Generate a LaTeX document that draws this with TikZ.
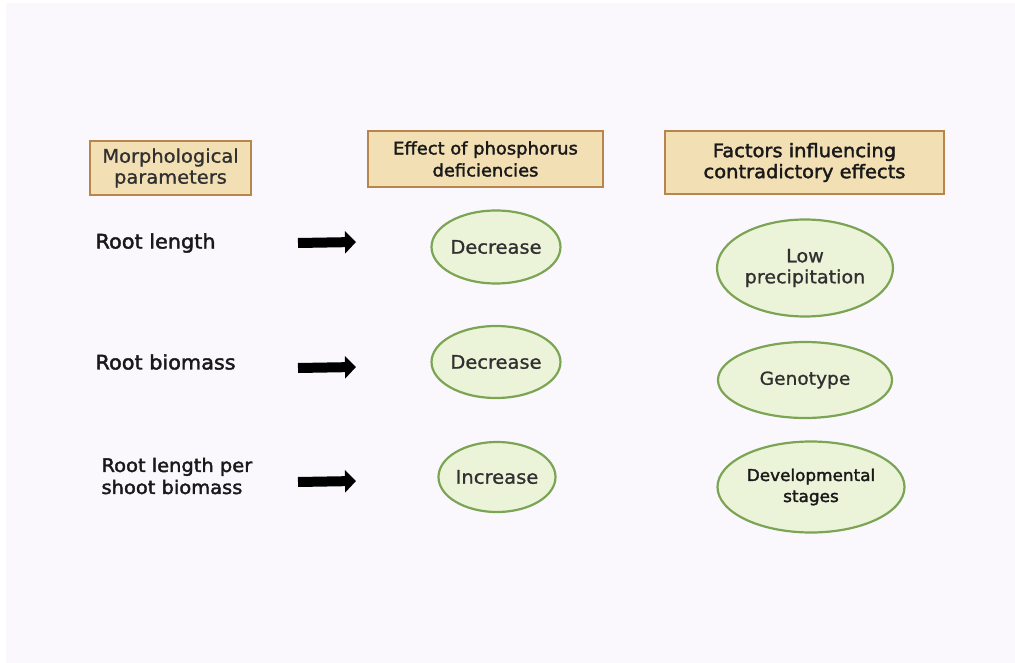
\documentclass[tikz,border=0pt]{standalone}
\usepackage{fontspec}
\setmainfont{DejaVu Sans}[FakeStretch=1.04, FakeBold=1.0]
\newfontfamily\medfont{DejaVu Sans}[FakeStretch=1.04, FakeBold=2.0]
\usetikzlibrary{shapes, positioning, arrows.meta}
\definecolor{bgpaper}{HTML}{FBF8FD}
\definecolor{boxfill}{HTML}{F2DFB4}
\definecolor{boxline}{HTML}{B8864C}
\definecolor{ovalfill}{HTML}{EBF3D8}
\definecolor{ovalline}{HTML}{7CA455}
\definecolor{inkgray}{HTML}{303030}

\tikzset{
  headbox/.style={rectangle, draw=boxline, fill=boxfill, line width=2.2pt, align=center, inner sep=0pt},
  effect/.style={ellipse, draw=ovalline, fill=ovalfill, line width=2.2pt, align=center, inner sep=0pt, text=inkgray},
  rowlabel/.style={anchor=west, align=left, text=black!90},
  fatarrow/.style={line width=10pt, -{Triangle[width=22pt, length=11pt]}},
}

\begin{document}
\begin{tikzpicture}[x=1pt, y=-1pt]
                \useasboundingbox (0,0) rectangle (1015,663);
                \fill[bgpaper] (6,3) rectangle (1015,663);

                % column headers
                \node[headbox, minimum width=161pt, minimum height=54pt, font=\fontsize{18.7}{21}\selectfont, text=inkgray] (morph) at (170.5,168) {Morphological\\parameters};
                \node[headbox, minimum width=235pt, minimum height=56pt, font=\medfont\fontsize{17.2}{22}\selectfont, text=black!90] (effect) at (485.5,159) {Effect of phosphorus\\deficiencies};
                \node[headbox, minimum width=279pt, minimum height=63pt, font=\medfont\fontsize{18.7}{21}\selectfont, text=black!90] (factors) at (804.5,162.5) {Factors influencing\\contradictory effects};

                % parameters
                \node[rowlabel, font=\medfont\fontsize{20}{22}\selectfont] (rlen) at (92,243) {Root length};
                \node[rowlabel, font=\medfont\fontsize{20}{22}\selectfont] (rbio) at (92,362) {Root biomass};
                \node[rowlabel, font=\medfont\fontsize{18.7}{22}\selectfont] (rlps) at (98,476) {Root length per\\shoot biomass};

                % effects
                \node[effect, minimum width=118pt, minimum height=73pt, font=\fontsize{18.7}{21}\selectfont] (dec1) at (496,247) {Decrease};
                \node[effect, minimum width=118pt, minimum height=72pt, font=\fontsize{18.7}{21}\selectfont] (dec2) at (496,362) {Decrease};
                \node[effect, minimum width=116pt, minimum height=70pt, font=\fontsize{18.8}{21}\selectfont] (inc) at (497,477) {Increase};

                % factors
                \node[effect, minimum width=176pt, minimum height=97pt, font=\fontsize{18.4}{21}\selectfont] (lowp) at (805,268) {Low\\precipitation};
                \node[effect, minimum width=174pt, minimum height=76pt, font=\fontsize{17.9}{21}\selectfont] (geno) at (805,380) {Genotype};
                \node[effect, minimum width=187pt, minimum height=91pt, font=\medfont\fontsize{16.2}{21}\selectfont, text=black!90] (devel) at (811,487) {Developmental\\stages};

                % arrows
                \coordinate (a1s) at (298,243);
                \coordinate (a1e) at (356,242);
                \coordinate (a2s) at (298,368);
                \coordinate (a2e) at (356,367);
                \coordinate (a3s) at (298,482);
                \coordinate (a3e) at (356,481);
                \draw[fatarrow] (a1s) -- (a1e);
                \draw[fatarrow] (a2s) -- (a2e);
                \draw[fatarrow] (a3s) -- (a3e);
            \end{tikzpicture}
\end{document}
